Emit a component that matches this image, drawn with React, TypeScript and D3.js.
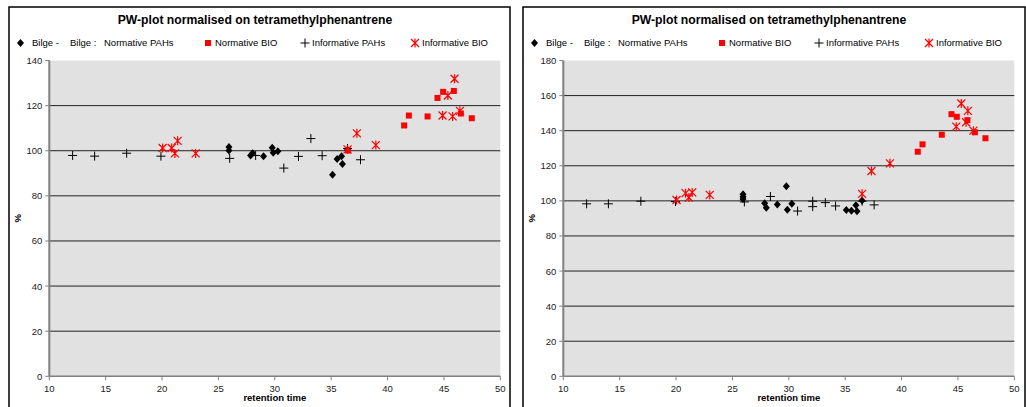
import * as d3 from "d3"

// [retention time, %]
const leftNormPAH = [[25.93, 101.6], [25.93, 100.1], [27.85, 97.9], [28.03, 98.9], [29.0, 97.6], [29.77, 101.3], [29.86, 99.1], [30.27, 99.8], [35.12, 89.4], [35.53, 96.3], [35.92, 97.6], [36.0, 94.1], [36.45, 100.4]]
const leftNormBIO = [[36.5, 100.1], [41.47, 111.2], [41.89, 115.6], [43.55, 115.2], [44.43, 123.4], [44.93, 126.1], [45.88, 126.5], [46.5, 116.5], [47.47, 114.4]]
const leftInfPAH = [[12.07, 97.9], [14.02, 97.6], [16.86, 98.9], [19.9, 97.6], [26.0, 96.6], [28.3, 97.9], [30.8, 92.3], [32.1, 97.5], [33.2, 105.4], [34.2, 97.8], [36.45, 101], [37.6, 96.0]]
const leftInfBIO = [[20.05, 101.2], [20.85, 101.2], [21.14, 98.8], [21.38, 104.4], [22.98, 98.8], [36.45, 100.6], [37.28, 107.7], [38.96, 102.5], [44.88, 115.6], [45.35, 124.5], [45.77, 115.2], [45.94, 131.9], [46.42, 117.7]]

const rightNormPAH = [[25.94, 103.8], [25.94, 102.3], [25.94, 101], [27.86, 98.6], [28.0, 96.1], [28.98, 97.9], [29.78, 108.3], [29.87, 94.9], [30.27, 98.3], [35.1, 94.8], [35.55, 94.3], [35.95, 97.5], [36.05, 94.1], [36.5, 100.2]]
const rightNormBIO = [[41.44, 128], [41.86, 132.2], [43.57, 137.7], [44.43, 149.4], [44.9, 147.9], [45.84, 146], [46.5, 139.1], [47.44, 135.7]]
const rightInfPAH = [[12.07, 98.3], [14.0, 98.3], [16.88, 99.8], [19.95, 99.6], [26.06, 99.4], [28.37, 102.5], [30.78, 94.2], [32.12, 99.8], [32.12, 96.7], [33.24, 99], [34.15, 97.1], [36.5, 99.8], [37.57, 97.7]]
const rightInfBIO = [[20.04, 100.5], [20.84, 104.4], [21.14, 101.9], [21.43, 104.8], [22.99, 103.4], [36.5, 104], [37.33, 117], [38.97, 121.4], [44.85, 142.3], [45.3, 155.5], [45.72, 144.8], [45.88, 151.3], [46.37, 140]]

const xTicks = [10, 15, 20, 25, 30, 35, 40, 45, 50]
const leftYTicks = [0, 20, 40, 60, 80, 100, 120, 140]
const rightYTicks = [0, 20, 40, 60, 80, 100, 120, 140, 160, 180]

const title = "PW-plot normalised on tetramethylphenantrene"
const font = "Arial, 'Liberation Sans', sans-serif"

const Diamond = ({ x, y, c = "#000" }) => <path d={`M${x},${y - 4}L${x + 3.5},${y}L${x},${y + 4}L${x - 3.5},${y}Z`} fill={c} />
const Square = ({ x, y }) => <rect x={x - 3} y={y - 3} width={6} height={6} fill="#ff0000" />
const Plus = ({ x, y }) => <path d={`M${x - 4.5},${y}H${x + 4.5}M${x},${y - 4.5}V${y + 4.5}`} stroke="#000" strokeWidth={1} />
// excel "star": an X with a vertical bar
const Star = ({ x, y }) => <path d={`M${x - 4},${y - 4}L${x + 4},${y + 4}M${x + 4},${y - 4}L${x - 4},${y + 4}M${x},${y - 4.5}V${y + 4.5}`} stroke="#ff0000" strokeWidth={1.2} />

const Chart = ({ left, width, yTicks, normPAH, normBIO, infPAH, infBIO }) => {
    const yMax = yTicks[yTicks.length - 1]
    const x = d3.scaleLinear().domain([10, 50]).range([left + 40.3, left + 491.3])
    const y = d3.scaleLinear().domain([0, yMax]).range([376.3, 60.5])
    const pl = x(10), pr = x(50), pt = y(yMax), pb = y(0)
    const legY = 46
    return (
        <g fontFamily={font}>
            <rect x={left} y={7} width={width} height={420} fill="#fff" stroke="#000" strokeWidth={1.5} />
            <text x={left + 246} y={24} textAnchor="middle" fontSize={12.2} fontWeight="bold">{title}</text>

            {/* legend */}
            <g fontSize={9.5} fill="#000">
                <Diamond x={left + 11.5} y={legY - 3} />
                <text x={left + 23} y={legY}>Bilge -</text>
                <text x={left + 61} y={legY}>Bilge :</text>
                <text x={left + 95} y={legY}>Normative PAHs</text>
                <Square x={left + 199} y={legY - 3} />
                <text x={left + 206} y={legY}>Normative BIO</text>
                <Plus x={left + 296} y={legY - 3} />
                <text x={left + 303} y={legY}>Informative PAHs</text>
                <Star x={left + 406} y={legY - 3} />
                <text x={left + 413} y={legY}>Informative BIO</text>
            </g>

            <rect x={pl} y={pt} width={pr - pl} height={pb - pt} fill="#e1e1e1" />
            {yTicks.filter(t => t > 0 && t < yMax).map(t => (
                <line key={t} x1={pl} x2={pr} y1={y(t)} y2={y(t)} stroke="#222" strokeWidth={1} />
            ))}
            <line x1={pl} x2={pl} y1={pt} y2={pb} stroke="#808080" strokeWidth={2} />
            <line x1={pl} x2={pr} y1={pb} y2={pb} stroke="#808080" strokeWidth={1.5} />

            <g fontSize={9.5} fill="#222">
                {yTicks.map(t => (
                    <g key={t}>
                        <line x1={pl - 4} x2={pl} y1={y(t)} y2={y(t)} stroke="#808080" />
                        <text x={pl - 7} y={y(t) + 3.5} textAnchor="end">{t}</text>
                    </g>
                ))}
                {xTicks.map(t => (
                    <g key={t}>
                        <line x1={x(t)} x2={x(t)} y1={pb} y2={pb + 4} stroke="#808080" />
                        <text x={x(t)} y={pb + 16} textAnchor="middle">{t}</text>
                    </g>
                ))}
            </g>
            <text x={(pl + pr) / 2} y={401} textAnchor="middle" fontSize={9.5} fontWeight="bold">retention time</text>
            <text transform={`translate(${left + 11.5},${(pt + pb) / 2}) rotate(-90)`} textAnchor="middle" fontSize={9.5} fontWeight="bold">%</text>

            {normPAH.map((d, i) => <Diamond key={"a" + i} x={x(d[0])} y={y(d[1])} />)}
            {normBIO.map((d, i) => <Square key={"b" + i} x={x(d[0])} y={y(d[1])} />)}
            {infPAH.map((d, i) => <Plus key={"c" + i} x={x(d[0])} y={y(d[1])} />)}
            {infBIO.map((d, i) => <Star key={"d" + i} x={x(d[0])} y={y(d[1])} />)}
        </g>
    )
}

export default function App() {
    return (
        <svg width={1026} height={407} style={{ position: "absolute", left: 0, top: 0, background: "#fff" }}>
            <Chart left={9} width={501} yTicks={leftYTicks} normPAH={leftNormPAH} normBIO={leftNormBIO} infPAH={leftInfPAH} infBIO={leftInfBIO} />
            <Chart left={523} width={502} yTicks={rightYTicks} normPAH={rightNormPAH} normBIO={rightNormBIO} infPAH={rightInfPAH} infBIO={rightInfBIO} />
        </svg>
    )
}
